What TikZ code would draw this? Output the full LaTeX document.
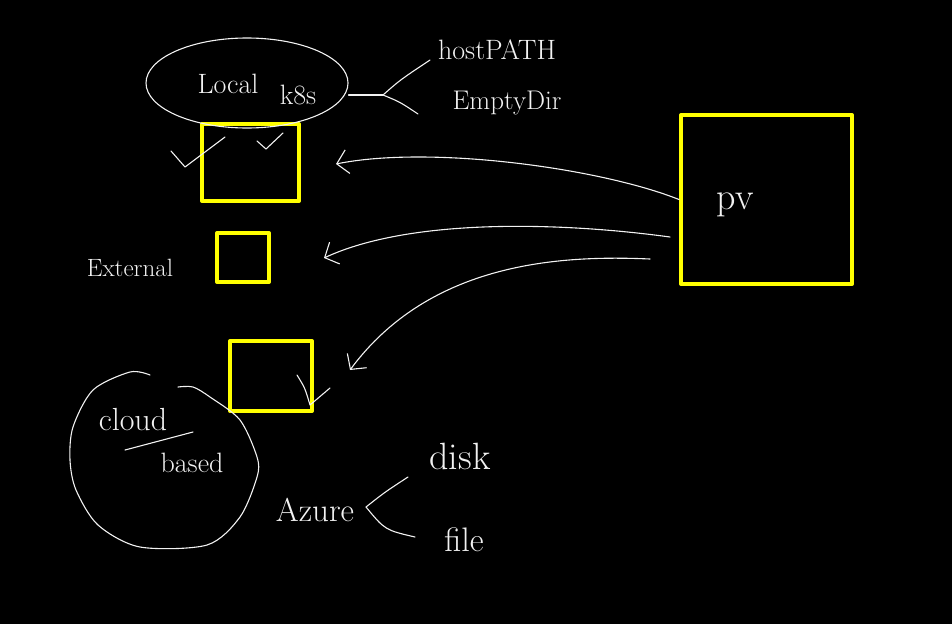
\documentclass[tikz,border=0pt]{standalone}
\usetikzlibrary{shapes.geometric,arrows.meta}
\definecolor{ink}{HTML}{F2F2F2}
\definecolor{hl}{HTML}{FFFF00}
\tikzset{
  sk/.style={draw=ink, line width=1.1pt, line cap=round, line join=round},
  ybox/.style={draw=hl, line width=4pt, line join=round, inner sep=0pt},
  lbl/.style={text=ink, inner sep=0pt},
  barb/.style={-{Straight Barb[length=11pt,width=24pt,line width=1.1pt]}},
}
\begin{document}
\begin{tikzpicture}[x=1pt,y=-1pt]
\fill[black] (0,0) rectangle (952,624);
\useasboundingbox (0,0) rectangle (952,624);

% yellow boxes
\node[ybox, minimum width=97pt, minimum height=77pt] (b1) at (250.5,162.5) {};
\node[ybox, minimum width=52pt, minimum height=49pt] (b2) at (243,257.5) {};
\node[ybox, minimum width=82pt, minimum height=70pt] (b3) at (271,376) {};
\node[ybox, minimum width=171pt, minimum height=169pt] (pv) at (766.5,199.5) {};

% local k8s ellipse
\node[sk, ellipse, minimum width=202pt, minimum height=90pt, inner sep=0pt] (lk) at (247,83) {};
\node[lbl, font=\fontsize{28}{32}\selectfont] (local) at (228,84) {Local};
\node[lbl, font=\fontsize{28}{32}\selectfont] (k8s) at (298,95) {k8s};

% branch to hostPATH / EmptyDir
\coordinate (br) at (383,95);
\coordinate (hpend) at (430,60);
\coordinate (edend) at (418,114);
\draw[sk] (lk.east |- br) -- (br);
\draw[sk] (br) .. controls (400,80) .. (hpend);
\draw[sk] (br) .. controls (400,102) .. (edend);
\node[lbl, font=\fontsize{28}{32}\selectfont] (hp) at (497,50) {hostPATH};
\node[lbl, font=\fontsize{27}{30}\selectfont] (ed) at (507,103) {EmptyDir};

% check marks
\draw[sk] (171,151) -- (185,167) -- (225,137);
\draw[sk] (257,141) -- (266,149) -- (283,133);
\draw[sk] (297,375) .. controls (305,388) .. (310,405) -- (330,388);

% labels
\node[lbl, font=\fontsize{25}{28}\selectfont] (ext) at (130,268) {External};
\node[lbl, font=\fontsize{38}{42}\selectfont] (pvl) at (735,205) {pv};

% pv arrows
\coordinate (t1) at (336,164);
\coordinate (t2) at (324,258);
\coordinate (t3) at (350,370);
\coordinate (s2) at (670,237);
\coordinate (s3) at (650,259);
\draw[sk, barb] (pv.west) .. controls (600,168) and (430,145) .. (t1);
\draw[sk, barb] (s2) .. controls (560,222) and (410,218) .. (t2);
\draw[sk, barb] (s3) .. controls (560,255) and (430,262) .. (t3);

% cloud based blob
\draw[sk] plot[smooth] coordinates {(150,375) (130,372) (93,390) (73,427) (70,460) (76,490) (98,525) (140,547) (207,545) (240,517) (257,477) (257,457) (240,420) (210,397) (193,387) (178,387)};
\node[lbl, font=\fontsize{32}{36}\selectfont] (cloud) at (133,420) {cloud};
\node[lbl, font=\fontsize{28}{32}\selectfont] (based) at (192,463) {based};
\coordinate (ul1) at (125,450);
\coordinate (ul2) at (193,432);
\draw[sk] (ul1) -- (ul2);

% Azure
\node[lbl, font=\fontsize{33}{36}\selectfont] (az) at (315,510) {Azure};
\coordinate (azb) at (366,507);
\coordinate (dk) at (408,477);
\coordinate (fl) at (415,537);
\draw[sk] (azb) .. controls (385,492) .. (dk);
\draw[sk] (azb) .. controls (385,530) .. (fl);
\node[lbl, font=\fontsize{38}{42}\selectfont] (disk) at (460,456) {disk};
\node[lbl, font=\fontsize{34}{38}\selectfont] (file) at (464,540) {file};
\end{tikzpicture}
\end{document}
